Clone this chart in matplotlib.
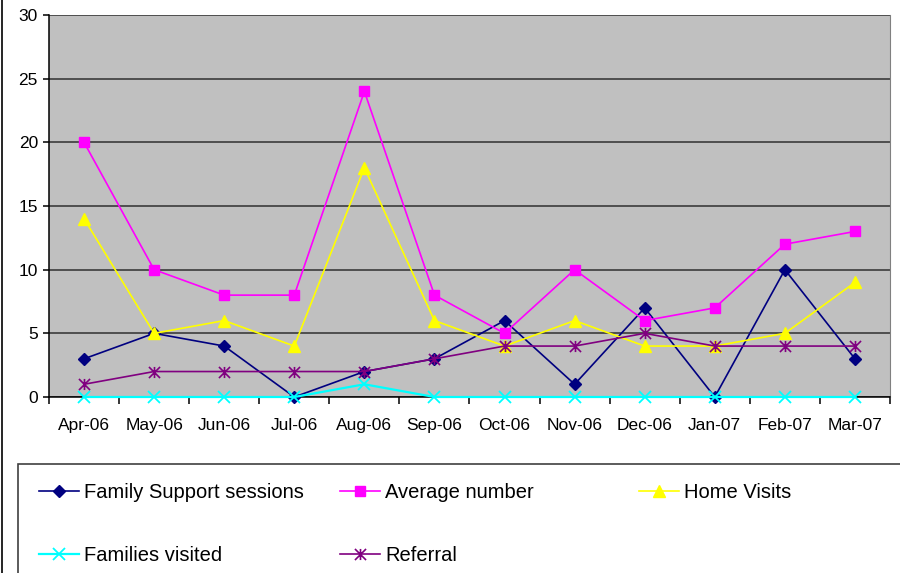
import numpy as np
import matplotlib.pyplot as plt
from matplotlib.path import Path
from matplotlib.patches import Rectangle
from matplotlib.lines import Line2D

plt.rcParams['font.family'] = ['Liberation Sans', 'DejaVu Sans']

months = ['Apr-06', 'May-06', 'Jun-06', 'Jul-06', 'Aug-06', 'Sep-06',
          'Oct-06', 'Nov-06', 'Dec-06', 'Jan-07', 'Feb-07', 'Mar-07']
family_support = [3, 5, 4, 0, 2, 3, 6, 1, 7, 0, 10, 3]
average_number = [20, 10, 8, 8, 24, 8, 5, 10, 6, 7, 12, 13]
home_visits = [14, 5, 6, 4, 18, 6, 4, 6, 4, 4, 5, 9]
families_visited = [0, 0, 0, 0, 1, 0, 0, 0, 0, 0, 0, 0]
referral = [1, 2, 2, 2, 2, 3, 4, 4, 5, 4, 4, 4]

# excel style star marker: vertical bar plus an X
star = Path([(0, -1), (0, 1), (-1, -1), (1, 1), (-1, 1), (1, -1)],
            [Path.MOVETO, Path.LINETO] * 3)

W, H = 900, 573
dpi = 100
fig = plt.figure(figsize=(W / dpi, H / dpi), dpi=dpi)
ax = fig.add_axes([49 / W, 1 - 397 / H, 841 / W, 382 / H])
ax.set_facecolor('#C0C0C0')

x = np.arange(len(months))
lw = 1.2
l1, = ax.plot(x, family_support, color='#000080', marker='D', ms=6.5, lw=lw, clip_on=False, zorder=3)
l2, = ax.plot(x, average_number, color='#FF00FF', marker='s', ms=7, lw=lw, clip_on=False, zorder=3)
l3, = ax.plot(x, home_visits, color='#FFFF00', marker='^', ms=8.5, lw=lw, clip_on=False, zorder=3)
l4, = ax.plot(x, families_visited, color='#00FFFF', marker='x', ms=8, mew=1.3, lw=1.6, clip_on=False, zorder=3)
l5, = ax.plot(x, referral, color='#800080', marker=star, ms=8, mew=1.2, lw=lw, clip_on=False, zorder=3)

ax.set_xlim(-0.5, 11.5)
ax.set_ylim(0, 30)
ax.set_yticks(range(0, 31, 5))
ax.yaxis.grid(True, color='#303030', lw=1.1)
ax.set_axisbelow(True)
ax.set_xticks(x)
ax.set_xticklabels(months)
ax.set_xticks(np.arange(-0.5, 12, 1), minor=True)
ax.tick_params(axis='x', which='major', length=0, pad=15, labelsize=12.5)
ax.tick_params(axis='x', which='minor', length=5, width=1.1, direction='out')
ax.tick_params(axis='y', length=4, width=1.1, pad=4, labelsize=12.5)
for s in ['left', 'bottom']:
    ax.spines[s].set_color('black')
    ax.spines[s].set_linewidth(1.1)
ax.spines['top'].set_visible(False)
ax.spines['right'].set_color('#808080')

# chart border (left edge) and legend box
fig.add_artist(Line2D([2 / W, 2 / W], [0, 1], color='black', lw=1.2, transform=fig.transFigure))
fig.add_artist(Rectangle((18 / W, -0.1), 1.0, 0.1 + 1 - 464 / H, fill=False,
                         edgecolor='#404040', lw=1.2, transform=fig.transFigure))

legend_kw = dict(loc='upper left', frameon=False, fontsize=14.5, borderpad=0,
                 borderaxespad=0, handlelength=2.0, handletextpad=0.25,
                 labelspacing=2.2)
top = 1 - 483 / H
fig.legend([l1, l4], ['Family Support sessions', 'Families visited'],
           bbox_to_anchor=(39 / W, top), **legend_kw)
fig.legend([l2, l5], ['Average number', 'Referral'],
           bbox_to_anchor=(340 / W, top), **legend_kw)
fig.legend([l3], ['Home Visits'],
           bbox_to_anchor=(639 / W, top), **legend_kw)

plt.savefig('out.png', dpi=dpi)
